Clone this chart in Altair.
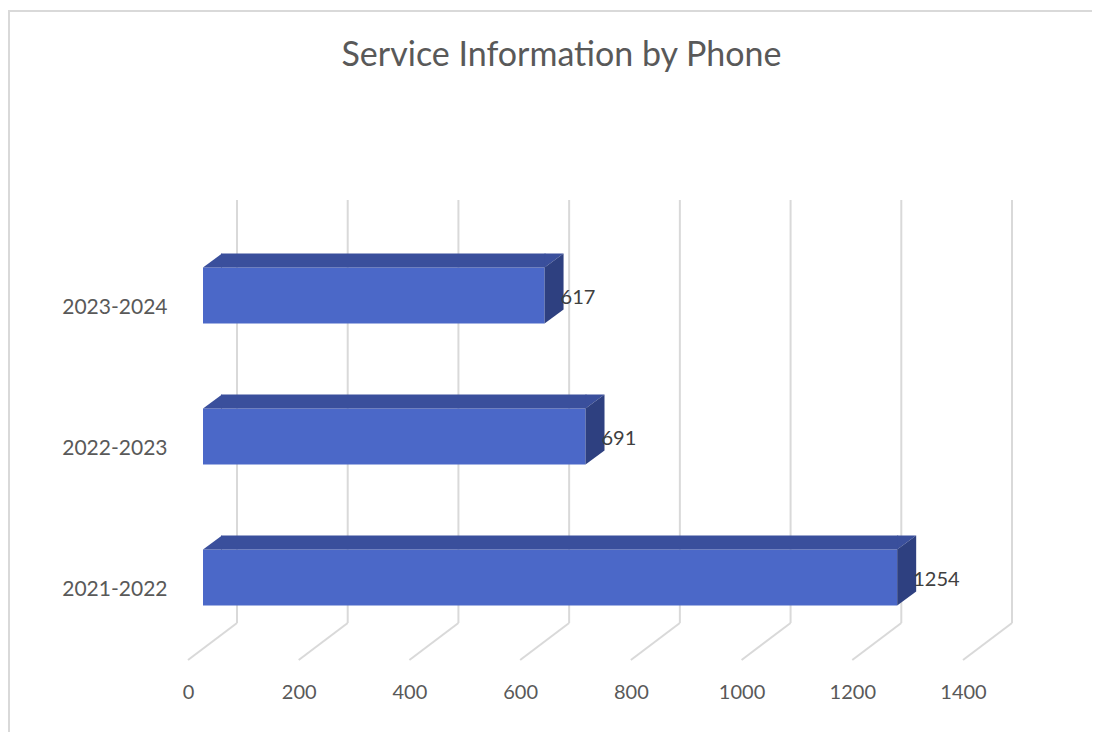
import altair as alt
import pandas as pd

# ---- data ----
periods = ["2023-2024", "2022-2023", "2021-2022"]
values = [617, 691, 1254]
x_ticks = [0, 200, 400, 600, 800, 1000, 1200, 1400]
title_text = ["Service Information by Phone"]

bars = pd.DataFrame({"period": periods, "value": values, "start": [0] * len(values)})
ticks = pd.DataFrame({"tick": x_ticks})
titles = pd.DataFrame({"title": title_text})
one = pd.DataFrame({"a": [0]})

# ---- layout / style ----
W, H = 775, 423
PAD_L, PAD_T = 180, 229
PAD_R = 1084 - PAD_L - W
PAD_B = 724 - PAD_T - H
BACK_DX, BACK_DY = 49, -37          # back wall offset (3D depth)
FONT = "Lato"
GRID = "#D9D9D9"
FRONT = "#4B68C8"
TOP = "#3A4F9C"
SIDE = "#2E4080"
TXT = "#595959"

xscale = alt.Scale(domain=[0, 1400], nice=False, zero=True)
yscale = alt.Scale(type="point", domain=periods, padding=0.5)

xaxis = alt.Axis(values=x_ticks, format="d", title=None, domain=False, ticks=False, grid=False,
                 labelFont=FONT, labelFontSize=20, labelColor=TXT, labelPadding=22,
                 labelFlush=False, labelOverlap=False)
yaxis = alt.Axis(title=None, domain=False, ticks=False, grid=False,
                 labelFont=FONT, labelFontSize=21, labelColor=TXT, labelPadding=21)

X = lambda f: alt.X(f, type="quantitative", scale=xscale, axis=xaxis)
Y = alt.Y("period:N", scale=yscale, axis=yaxis, sort=periods)

# back-wall gridlines
grid = alt.Chart(ticks).mark_rule(color=GRID, strokeWidth=2, xOffset=BACK_DX,
                                  yOffset=BACK_DY, y2Offset=BACK_DY).encode(
    x=X("tick"), y=alt.value(0), y2=alt.value(H))

# floor diagonals
floor = alt.Chart(ticks).mark_rule(color=GRID, strokeWidth=2, x2Offset=BACK_DX,
                                   y2Offset=BACK_DY).encode(
    x=X("tick"), x2=alt.X2("tick"), y=alt.value(H), y2=alt.value(H))

# front face of each bar
front = alt.Chart(bars).mark_rule(color=FRONT, strokeWidth=56, strokeCap="butt",
                                  xOffset=15, x2Offset=15, yOffset=-12).encode(
    x=X("start"), x2=alt.X2("value"), y=Y)

# top face (middle part)
top_mid = alt.Chart(bars).mark_rule(color=TOP, strokeWidth=14, strokeCap="butt",
                                    xOffset=33, x2Offset=16, yOffset=-47).encode(
    x=X("start"), x2=alt.X2("value"), y=Y)

# top face slanted ends and side face (custom symbols drawn in pixel units: size 4 -> scale 1)
def cap(path, color, field):
    return alt.Chart(bars).mark_point(shape=path, size=4, filled=True, fill=color,
                                      opacity=1, strokeWidth=0).encode(x=X(field), y=Y)

top_left = cap("M15,-40L34,-54L34,-40Z", TOP, "start")
top_right = cap("M15,-40L34,-54L15,-54Z", TOP, "value")
side = cap("M15,-40L34,-54L34,2L15,16Z", SIDE, "value")

labels = alt.Chart(bars).mark_text(align="left", baseline="middle", xOffset=31, yOffset=-10,
                                   font=FONT, fontSize=20, color="#404040").encode(
    x=X("value"), y=Y, text="value:Q")

title = alt.Chart(titles).mark_text(align="center", baseline="alphabetic", font=FONT,
                                    fontSize=34, color=TXT).encode(
    x=alt.value(W / 2 - 14), y=alt.value(66 - 237), text="title:N")

# chart frame (left and top edge)
frame_l = alt.Chart(one).mark_rule(color=GRID, strokeWidth=2).encode(
    x=alt.value(-179), y=alt.value(-226), y2=alt.value(H + PAD_B))
frame_t = alt.Chart(one).mark_rule(color=GRID, strokeWidth=2).encode(
    x=alt.value(-180), x2=alt.value(W + PAD_R), y=alt.value(-226))

chart = alt.layer(frame_l, frame_t, grid, floor, front, top_mid, top_left, top_right, side,
                  labels, title).properties(
    width=W, height=H,
    autosize=alt.AutoSizeParams(type="none"),
    padding={"left": PAD_L, "top": PAD_T, "right": PAD_R, "bottom": PAD_B},
    background="white",
).configure_view(stroke=None)

chart.save("out.html", embed_options={"renderer": "svg", "actions": False})
